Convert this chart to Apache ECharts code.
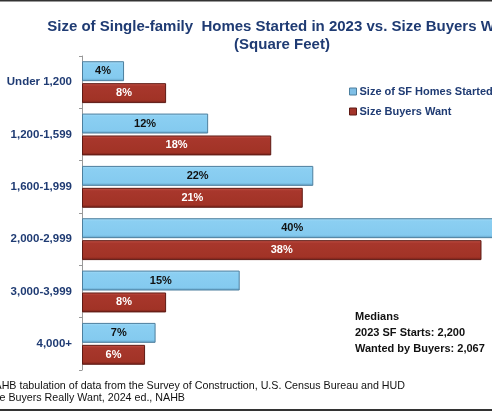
<!DOCTYPE html>
<html>
<head>
<meta charset="utf-8">
<script src="https://cdn.jsdelivr.net/npm/echarts@6/dist/echarts.min.js"></script>
<style>html,body{margin:0;padding:0;background:#fff;}#c{width:492px;height:411px;}</style>
</head>
<body>
<div id="c"></div>
<script>
var categories = ['Under 1,200', '1,200-1,599', '1,600-1,999', '2,000-2,999', '3,000-3,999', '4,000+'];
var homesStarted = [4, 12, 22, 40, 15, 7];
var buyersWant = [8, 18, 21, 38, 8, 6];
var seriesNames = ['Size of SF Homes Started', 'Size Buyers Want'];
var titleLines = ['Size of Single-family  Homes Started in 2023 vs. Size Buyers Want', '(Square Feet)'];
var medianLines = ['Medians', '2023 SF Starts: 2,200', 'Wanted by Buyers: 2,067'];
var sourceLine1 = 'Source: NAHB tabulation of data from the Survey of Construction, U.S. Census Bureau and HUD';
var sourceLine2 = 'What Home Buyers Really Want, 2024 ed., NAHB';

var navy = '#1F3B73';
var font = 'Liberation Sans, Arial, sans-serif';
var chart = echarts.init(document.getElementById('c'), null, {renderer: 'canvas'});

var blueFill = new echarts.graphic.LinearGradient(0, 0, 0, 1, [
  {offset: 0, color: '#a6dcf7'}, {offset: 0.15, color: '#8bcff2'},
  {offset: 0.85, color: '#84caef'}, {offset: 1, color: '#5f9cc0'}]);
var redFill = new echarts.graphic.LinearGradient(0, 0, 0, 1, [
  {offset: 0, color: '#c9574c'}, {offset: 0.15, color: '#a8372c'},
  {offset: 0.85, color: '#a13326'}, {offset: 1, color: '#6e1d16'}]);

chart.setOption({
  animation: false,
  title: {
    text: titleLines.join('\n'),
    left: 277, top: 13, textAlign: 'center',
    textStyle: {fontFamily: font, fontSize: 15, fontWeight: 'bold', color: navy, lineHeight: 18}
  },
  legend: {
    orient: 'vertical', left: 344, top: 81, itemWidth: 7, itemHeight: 7, itemGap: 9,
    icon: 'rect',
    data: [{name: seriesNames[0], itemStyle: {color: '#7fbfe6', borderColor: '#4d7f9e', borderWidth: 1}},
           {name: seriesNames[1], itemStyle: {color: '#a3342a', borderColor: '#5e1a14', borderWidth: 1}}],
    textStyle: {fontFamily: font, fontSize: 11, fontWeight: 'bold', color: navy, padding: [0, 0, 0, -2]}
  },
  grid: {left: 82, top: 56, right: 0, height: 314, containLabel: false},
  xAxis: {type: 'value', min: 0, max: 39, show: false},
  yAxis: {
    type: 'category', data: categories, inverse: true,
    axisLine: {show: true, lineStyle: {color: '#999', width: 1}},
    axisTick: {show: true, length: 3, lineStyle: {color: '#999'}},
    axisLabel: {margin: 10, fontFamily: font, fontSize: 11.5, fontWeight: 'bold', color: navy}
  },
  series: [
    {name: seriesNames[0], type: 'bar', data: homesStarted, barCategoryGap: '20%', barGap: '10%', clip: false,
     itemStyle: {color: blueFill, borderColor: '#4d7f9e', borderWidth: 1},
     label: {show: true, position: 'inside', formatter: '{c}%', fontFamily: font, fontSize: 11, fontWeight: 'bold', color: '#111'}},
    {name: seriesNames[1], type: 'bar', data: buyersWant, barCategoryGap: '20%', barGap: '10%', clip: false,
     itemStyle: {color: redFill, borderColor: '#5e1a14', borderWidth: 1},
     label: {show: true, position: 'inside', formatter: '{c}%', fontFamily: font, fontSize: 11, fontWeight: 'bold', color: '#fff'}}
  ],
  graphic: [
    {type: 'rect', shape: {x: 0, y: 0, width: 492, height: 1.5}, style: {fill: '#333'}},
    {type: 'rect', shape: {x: 0, y: 409, width: 492, height: 2}, style: {fill: '#333'}},
    {type: 'text', left: 355, top: 309, style: {text: medianLines.join('\n'), fontFamily: font, fontSize: 11, fontWeight: 'bold', fill: '#111', lineHeight: 16}},
    {type: 'text', x: 405, y: 381, style: {text: sourceLine1, textAlign: 'right', fontFamily: font, fontSize: 10.7, fill: '#111'}},
    {type: 'text', x: 185, y: 393, style: {text: sourceLine2, textAlign: 'right', fontFamily: font, fontSize: 10.7, fill: '#111'}}
  ]
});
</script>
</body>
</html>
